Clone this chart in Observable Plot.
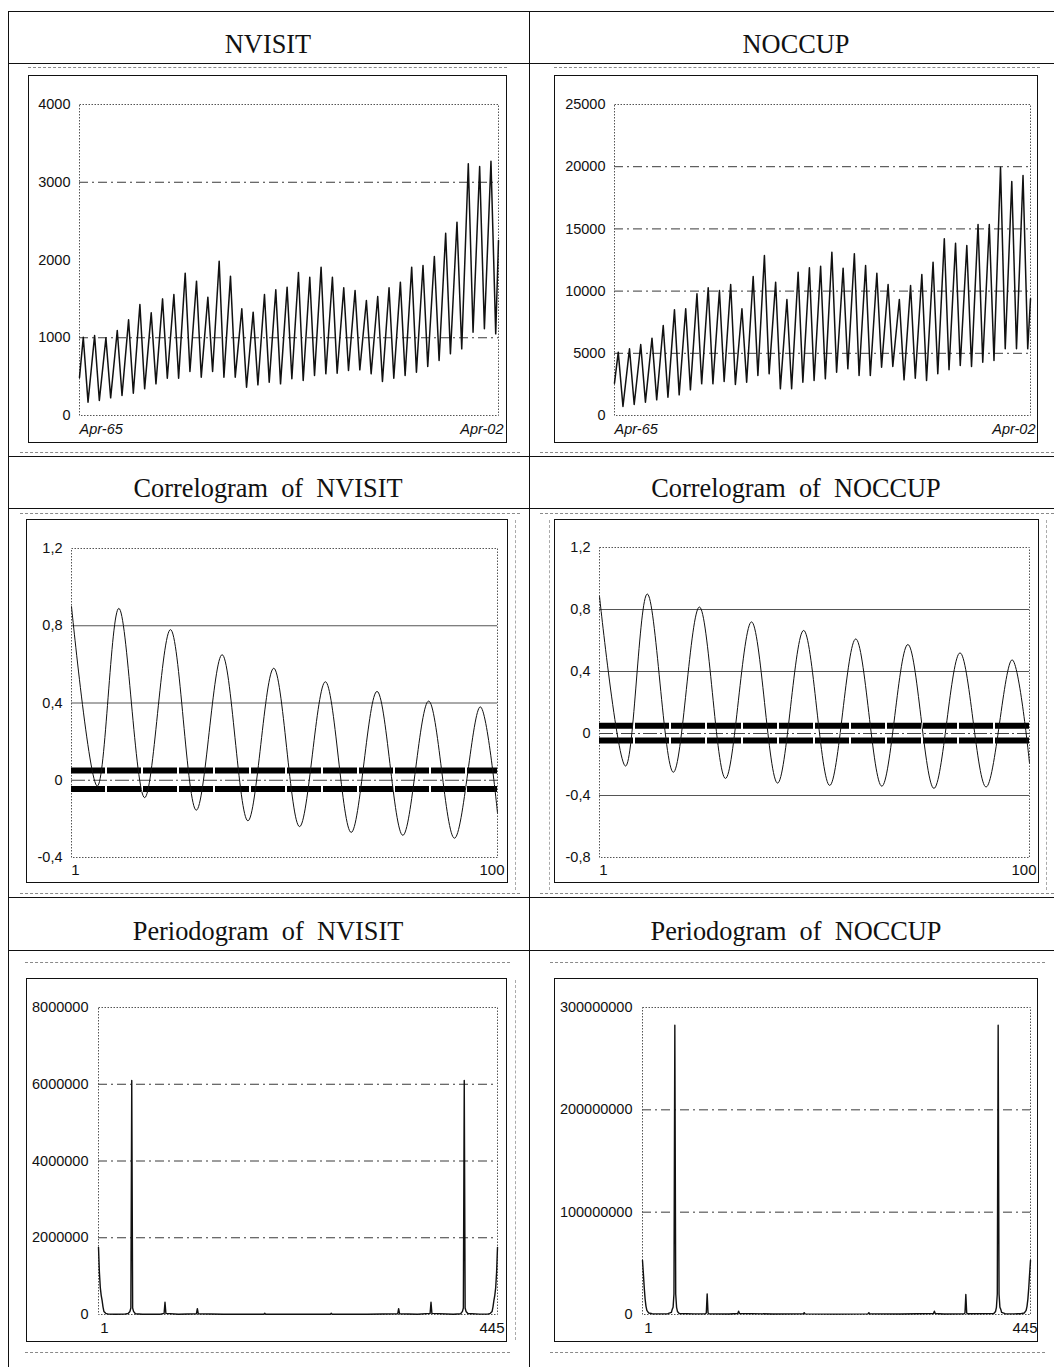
<!DOCTYPE html>
<html><head><meta charset="utf-8">
<script src="https://cdn.jsdelivr.net/npm/d3@7"></script>
<script src="https://cdn.jsdelivr.net/npm/@observablehq/plot@0.6"></script>
<style>
html,body{margin:0;padding:0;background:#fff;}
#page{position:relative;width:1054px;height:1367px;overflow:hidden;font-family:"Liberation Sans",Arial,sans-serif;background:#fff;}
.hl{position:absolute;height:0;border-top:1.5px solid #111;}
.vl{position:absolute;width:0;border-left:1.5px solid #111;}
.dl{position:absolute;height:0;border-top:1px dashed #8a8a8a;}
.dv{position:absolute;width:0;border-left:1px dashed #aaa;}
.hdr{position:absolute;width:400px;text-align:center;font-family:"Liberation Serif","Times New Roman",serif;font-size:28px;line-height:28px;color:#111;white-space:pre;transform:scaleX(0.94);}
.box{position:absolute;border:1.5px solid #111;box-sizing:border-box;pointer-events:none;}
</style></head><body><div id="page"></div>
<script>
// ---------- data ----------
const panelTitles = ["NVISIT", "NOCCUP", "Correlogram  of  NVISIT", "Correlogram  of  NOCCUP", "Periodogram  of  NVISIT", "Periodogram  of  NOCCUP"];

// monthly series: value at Apr-65, summer (Aug) peaks 1965..2001, winter (Jan) troughs 1966..2002, value at Apr-02
const nvisitStart = 490;
const nvisitPeaks = [1007,1029,999,1093,1230,1428,1320,1500,1556,1831,1728,1522,1985,1792,1372,1329,1556,1616,1651,1839,1779,1908,1779,1642,1608,1479,1531,1642,1715,1908,1929,2045,2345,2487,3237,3203,3271];
const nvisitTroughs = [172,193,227,257,287,343,407,480,480,566,493,566,493,493,364,394,429,407,472,450,514,536,544,579,587,536,437,480,514,557,630,707,793,857,1072,1115,1050];
const nvisitEnd = 2250;

const noccupStart = 2600;
const noccupPeaks = [5091,5359,5707,6217,7235,8494,8577,9780,10263,10048,10531,8577,11174,12862,10718,9325,11522,11870,12004,13130,11844,12996,12058,11441,10531,9325,10450,11334,12326,14202,13853,13665,15354,15354,19963,18810,19293];
const noccupTroughs = [723,884,1072,1259,1474,1661,2063,2546,2546,2733,2492,2680,3215,3349,2144,2144,2680,2813,2947,3483,3751,3215,3215,3885,3939,2867,3001,2813,3349,3671,4019,3939,4287,4421,5359,5359,5359];
const noccupEnd = 9378;

const tsXLabels = ["Apr-65", "Apr-02"];
const nvisitTicks = [0,1000,2000,3000,4000];
const nvisitGrid = [1000,3000];
const noccupTicks = [0,5000,10000,15000,20000,25000];
const noccupGrid = [5000,10000,15000,20000];

// correlograms (lag, autocorrelation at turning points)
const corrLags = [1,7,12,18,24,30,36,42,48,54,60,66,72,78,84,90,96,100];
const corrNvisit = [0.90,-0.03,0.89,-0.09,0.78,-0.155,0.65,-0.21,0.58,-0.24,0.51,-0.27,0.46,-0.285,0.41,-0.30,0.38,-0.17];
const corrNoccup = [0.885,-0.21,0.90,-0.25,0.816,-0.29,0.72,-0.32,0.665,-0.335,0.61,-0.34,0.574,-0.354,0.52,-0.345,0.475,-0.19];
const corrBands = [0.05,-0.045];
const corrXLabels = ["1","100"];
const corrNvisitTicks = [-0.4,0,0.4,0.8,1.2];
const corrNvisitGrid = [0.4,0.8];
const corrNoccupTicks = [-0.8,-0.4,0,0.4,0.8,1.2];
const corrNoccupGrid = [-0.4,0.4,0.8];

// periodograms (index, value)
const perNvisitIdx = [1,2,3,4,5,6,7,9,12,20,30,34,36,37,38,39,40,42,50,70,74,75,76,90,110,111,112,140,185,186,187,220,259,260,261,300,334,335,336,356,370,371,372,396,404,406,407,408,409,410,412,425,434,437,439,440,441,442,443,444,445];
const perNvisitVal = [1750000,1100000,700000,500000,370000,200000,80000,30000,10000,8000,10000,25000,80000,170000,6100000,170000,80000,20000,8000,8000,30000,320000,30000,8000,20000,150000,20000,6000,6000,30000,6000,5000,6000,30000,6000,6000,20000,150000,20000,8000,30000,320000,30000,8000,20000,80000,170000,6100000,170000,80000,25000,10000,10000,30000,80000,200000,370000,500000,700000,1100000,1750000];
const perNoccupIdx = [1,2,3,4,5,6,8,12,20,30,34,35,36,37,38,39,40,41,43,60,73,74,75,76,77,100,110,111,112,150,185,186,187,222,259,260,261,296,334,335,336,346,369,370,371,372,373,403,405,406,407,408,409,410,411,412,416,426,434,438,440,441,442,443,444,445];
const perNoccupVal = [52800000,40000000,26000000,15000000,8000000,4000000,1500000,800000,600000,800000,2000000,5000000,7000000,20000000,282700000,20000000,7000000,3000000,1000000,600000,800000,1500000,20200000,1500000,800000,500000,1000000,3300000,1000000,500000,600000,1800000,600000,400000,600000,1800000,600000,500000,1000000,3300000,1000000,500000,800000,1500000,19600000,1500000,800000,1000000,3000000,7000000,20000000,282700000,20000000,7000000,5000000,2000000,800000,600000,800000,1500000,4000000,8000000,15000000,26000000,40000000,52800000];
const perXLabels = ["1","445"];
const perNvisitTicks = [0,2000000,4000000,6000000,8000000];
const perNvisitGrid = [2000000,4000000,6000000];
const perNoccupTicks = [0,100000000,200000000,300000000];
const perNoccupGrid = [100000000,200000000];

// ---------- layout helpers ----------
const page = document.getElementById("page");
function hline(x1,x2,y,cls){const d=document.createElement("div");d.className=cls||"hl";d.style.left=x1+"px";d.style.top=y+"px";d.style.width=(x2-x1)+"px";page.appendChild(d);}
function vline(x,y1,y2,cls){const d=document.createElement("div");d.className=cls||"vl";d.style.left=x+"px";d.style.top=y1+"px";d.style.height=(y2-y1)+"px";page.appendChild(d);}
function header(text,cx,baseline){const d=document.createElement("div");d.className="hdr";d.textContent=text;d.style.left=(cx-200)+"px";d.style.top=(baseline-23.5)+"px";page.appendChild(d);}

[11,63,456,508,897,950].forEach(y=>hline(8,1054,y));
vline(8,11,1367); vline(529,11,1367);
// faint double-rule remnants of the table
[[28,507,67],[554,1040,67],[20,520,452],[540,1054,452],[20,520,513],[540,1054,513],[20,520,893],[540,1054,893],[25,510,962],[550,1045,962],[25,510,1352],[550,1045,1352]].forEach(a=>hline(a[0],a[1],a[2],"dl"));
vline(515,520,890,"dv"); vline(1046,520,890,"dv"); vline(515,980,1340,"dv"); vline(549,520,890,"dv");

header(panelTitles[0],268,53); header(panelTitles[1],796,53);
header(panelTitles[2],268,497); header(panelTitles[3],796,497);
header(panelTitles[4],268,940); header(panelTitles[5],796,940);

function mount(svg,box){
  svg.style.position="absolute";svg.style.left=box[0]+"px";svg.style.top=box[1]+"px";
  page.appendChild(svg);
  const b=document.createElement("div");b.className="box";
  b.style.left=box[0]+"px";b.style.top=box[1]+"px";b.style.width=box[2]+"px";b.style.height=box[3]+"px";
  page.appendChild(b);
}

const baseStyle = {fontFamily:"Liberation Sans, Arial, sans-serif", fontSize:"14.5px", color:"#111", background:"none", overflow:"visible"};
const gridStyle = {stroke:"#3a3a3a", strokeWidth:1, strokeDasharray:"9,4,2,4"};
const plotFrame = () => Plot.frame({stroke:"#555", strokeWidth:1, strokeDasharray:"1.5,1.5"});
const intFmt = d3.format("d");
const commaFmt = d => d === 0 ? "0" : d.toFixed(1).replace(".", ",");

function buildSeries(start, peaks, troughs, end){
  const rows=[{date:new Date(1965,3,1), value:start}];
  peaks.forEach((p,i)=>{
    rows.push({date:new Date(1965+i,7,1), value:p});
    rows.push({date:new Date(1966+i,0,1), value:troughs[i]});
  });
  rows.push({date:new Date(2002,3,1), value:end});
  return rows;
}

function tsPanel(rows, ticks, grid, box, m){
  const d0=new Date(1965,3,1), d1=new Date(2002,3,1);
  const labs=[{x:d0,y:0,t:tsXLabels[0]},{x:d1,y:0,t:tsXLabels[1]}];
  return Plot.plot({
    width:box[2], height:box[3], marginLeft:m[0], marginTop:m[1], marginRight:m[2], marginBottom:m[3],
    style:baseStyle,
    x:{type:"time", domain:[d0,d1], axis:null},
    y:{domain:[ticks[0], ticks[ticks.length-1]], ticks:ticks, tickSize:0, tickPadding:9, tickFormat:intFmt, label:null},
    marks:[
      Plot.ruleY(grid, gridStyle),
      plotFrame(),
      Plot.line(rows,{x:"date", y:"value", stroke:"#111", strokeWidth:1.5, strokeLinejoin:"round"}),
      Plot.text(labs.slice(0,1),{x:"x", y:"y", text:"t", textAnchor:"start", dy:14, fontSize:14.5, fontStyle:"italic", fill:"#111"}),
      Plot.text(labs.slice(1),{x:"x", y:"y", text:"t", textAnchor:"end", dx:5, dy:14, fontSize:14.5, fontStyle:"italic", fill:"#111"})
    ]
  });
}

function corrPanel(vals, ticks, grid, box, m){
  const rows=corrLags.map((l,i)=>({lag:l, r:vals[i]}));
  const y0=ticks[0];
  return Plot.plot({
    width:box[2], height:box[3], marginLeft:m[0], marginTop:m[1], marginRight:m[2], marginBottom:m[3],
    style:baseStyle,
    x:{domain:[1,100], axis:null},
    y:{domain:[y0, ticks[ticks.length-1]], ticks:ticks, tickSize:0, tickPadding:9, tickFormat:commaFmt, label:null},
    marks:[
      Plot.ruleY(grid,{stroke:"#555", strokeWidth:1}),
      Plot.ruleY([0],{stroke:"#444", strokeWidth:1, strokeDasharray:"14,3,2,3"}),
      plotFrame(),
      Plot.ruleY(corrBands,{stroke:"#000", strokeWidth:6, strokeDasharray:"34,2"}),
      Plot.line(rows,{x:"lag", y:"r", stroke:"#111", strokeWidth:1, curve:"catmull-rom"}),
      Plot.text([{x:1,y:y0,t:corrXLabels[0]}],{x:"x", y:"y", text:"t", textAnchor:"middle", dx:4, dy:13, fontSize:15, fill:"#111"}),
      Plot.text([{x:100,y:y0,t:corrXLabels[1]}],{x:"x", y:"y", text:"t", textAnchor:"end", dx:7, dy:13, fontSize:15, fill:"#111"})
    ]
  });
}

function perPanel(idx, vals, ticks, grid, box, m){
  const rows=idx.map((k,i)=>({k, v:vals[i]}));
  return Plot.plot({
    width:box[2], height:box[3], marginLeft:m[0], marginTop:m[1], marginRight:m[2], marginBottom:m[3],
    style:baseStyle,
    x:{domain:[1,445], axis:null},
    y:{domain:[0, ticks[ticks.length-1]], ticks:ticks, tickSize:0, tickPadding:10, tickFormat:intFmt, label:null},
    marks:[
      Plot.ruleY(grid, gridStyle),
      plotFrame(),
      Plot.line(rows,{x:"k", y:"v", stroke:"#111", strokeWidth:1.4}),
      Plot.text([{x:1,y:0,t:perXLabels[0]}],{x:"x", y:"y", text:"t", textAnchor:"middle", dx:6, dy:14, fontSize:15, fill:"#111"}),
      Plot.text([{x:445,y:0,t:perXLabels[1]}],{x:"x", y:"y", text:"t", textAnchor:"end", dx:7, dy:14, fontSize:15, fill:"#111"})
    ]
  });
}

// boxes: [left, top, width, height]; margins: [left, top, right, bottom]
const boxA=[28,75,479,368], boxB=[554,75,484,368];
const boxC=[26,519,482,364], boxD=[554,519,485,364];
const boxE=[26,978,481,364], boxF=[554,978,484,364];

mount(tsPanel(buildSeries(nvisitStart,nvisitPeaks,nvisitTroughs,nvisitEnd), nvisitTicks, nvisitGrid, boxA, [51,29,9,28]), boxA);
mount(tsPanel(buildSeries(noccupStart,noccupPeaks,noccupTroughs,noccupEnd), noccupTicks, noccupGrid, boxB, [60,29,8,28]), boxB);
mount(corrPanel(corrNvisit, corrNvisitTicks, corrNvisitGrid, boxC, [45,29,11,26]), boxC);
mount(corrPanel(corrNoccup, corrNoccupTicks, corrNoccupGrid, boxD, [45,28,10,26]), boxD);
mount(perPanel(perNvisitIdx, perNvisitVal, perNvisitTicks, perNvisitGrid, boxE, [72,29,10,28]), boxE);
mount(perPanel(perNoccupIdx, perNoccupVal, perNoccupTicks, perNoccupGrid, boxF, [88,29,8,28]), boxF);
</script></body></html>
